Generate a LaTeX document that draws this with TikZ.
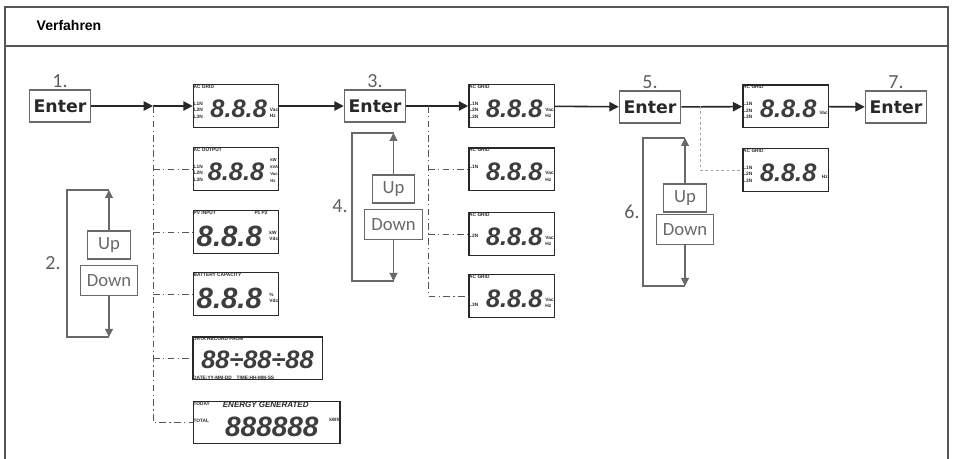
\documentclass[tikz,border=0pt]{standalone}
\usepackage{fontspec}
\setmainfont{Liberation Sans}
\newfontfamily\enterfont{DejaVu Sans}
\newfontfamily\keyfont{Carlito}
\usetikzlibrary{positioning,arrows.meta}
\definecolor{ink}{RGB}{40,40,40}
\definecolor{rule}{RGB}{85,85,85}
\definecolor{keygray}{RGB}{105,105,105}
\tikzset{
  frame/.style={draw=rule,line width=1.1pt},
  enterbox/.style={draw=keygray,line width=0.9pt,minimum width=46pt,minimum height=24pt,inner sep=1pt,
    font=\enterfont\bfseries\fontsize{13}{13}\selectfont,text=ink},
  keybox/.style={draw=keygray,line width=0.8pt,minimum height=21pt,inner sep=2pt,
    font=\keyfont\fontsize{14}{14}\selectfont,text=keygray},
  stepnum/.style={font=\keyfont\fontsize{15}{15}\selectfont,text=ink!75,inner sep=1pt},
  lcd/.style={draw=ink,line width=1pt,minimum width=64pt,minimum height=32pt,inner sep=0pt},
  digits/.style={font=\bfseries\itshape\fontsize{19}{19}\selectfont,text=ink!90,inner sep=0pt},
  tag/.style={font=\bfseries\fontsize{3.6}{4.8}\selectfont,text=ink,inner sep=0.6pt,align=left},
  flow/.style={line width=1.2pt,ink,-{Triangle[length=7pt,width=7pt]}},
  tap/.style={line width=0.7pt,rule,dash pattern=on 5pt off 2.5pt on 1pt off 2.5pt},
  faint/.style={line width=0.7pt,black!35,dash pattern=on 2pt off 2pt},
  bracket/.style={line width=0.8pt,keygray}
}
\begin{document}
\begin{tikzpicture}[x=0.75pt,y=-0.75pt]
\useasboundingbox (0,0) rectangle (953,459);
% frame with header
\draw[frame] (5,459) -- (5,7) -- (948,7) -- (948,459);
\draw[frame] (5,46) -- (948,46);
\node[anchor=west,font=\bfseries\fontsize{10.5}{12}\selectfont] (head) at (32,26) {Verfahren};

% Enter keys and step numbers
\node[enterbox] (e1) at (60,106) {Enter};
\node[enterbox] (e3) at (375,106) {Enter};
\node[enterbox] (e5) at (650,107) {Enter};
\node[enterbox] (e7) at (896,107) {Enter};
\node[stepnum,above=0pt of e1] (n1) {1.};
\node[stepnum,above=0pt of e3] (n3) {3.};
\node[stepnum,above=0pt of e5] (n5) {5.};
\node[stepnum,above=0pt of e7] (n7) {7.};

% AC GRID displays
\foreach \g/\x/\y/\side/\unit in {g1/236/106/{L1N\\L2N\\L3N}/{Vac\\Hz},
    g7/511.5/106/{L1N\\L2N\\L3N}/{Vac\\Hz},
    g8/511.5/169.5/{L1N\\~\\~}/{Vac\\Hz},
    g9/511.5/234/{~\\L2N\\~}/{Vac\\Hz},
    g10/511.5/296/{~\\~\\L3N}/{Vac\\Hz},
    g11/785.5/106.5/{L1N\\L2N\\L3N}/{Vac},
    g12/785.5/170/{L1N\\L2N\\L3N}/{Hz}}{
  \node[lcd] (\g) at (\x,\y) {};
  \node[tag,anchor=north west] at (\g.north west) {AC GRID};
  \node[tag,anchor=west] at ([yshift=-3pt]\g.west) {\side};
  \node[digits] at ([xshift=2pt,yshift=-2pt]\g.center) {8.8.8};
  \node[tag,anchor=east] at ([yshift=-5pt]\g.east) {\unit};
}

% other displays
\node[lcd] (g2) at (236,169) {};
\node[tag,anchor=north west] at (g2.north west) {AC OUTPUT};
\node[tag,anchor=west] at ([yshift=-3pt]g2.west) {L1N\\L2N\\L3N};
\node[digits] at ([xshift=0pt,yshift=-2pt]g2.center) {8.8.8};
\node[tag,anchor=east,font=\bfseries\fontsize{3.2}{5.2}\selectfont] at ([yshift=-1pt]g2.east) {kW\\kVA\\Vac\\Hz};

\node[lcd] (g3) at (236,232) {};
\node[tag,anchor=north west] at (g3.north west) {PV INPUT};
\node[tag,anchor=north east] at ([xshift=-8pt]g3.north east) {P1 P2};
\node[digits,font=\bfseries\itshape\fontsize{22}{22}\selectfont] at ([xshift=-5pt,yshift=-3pt]g3.center) {8.8.8};
\node[tag,anchor=east] at ([yshift=-3pt]g3.east) {kW\\Vdc};

\node[lcd] (g4) at (236,294) {};
\node[tag,anchor=north west] at (g4.north west) {BATTERY CAPACITY};
\node[digits,font=\bfseries\itshape\fontsize{22}{22}\selectfont] at ([xshift=-5pt,yshift=-3pt]g4.center) {8.8.8};
\node[tag,anchor=east] at ([yshift=-3pt]g4.east) {\%\\Vdc};

\node[lcd,minimum width=97pt] (g5) at (257.5,358.5) {};
\node[tag,anchor=north west] at (g5.north west) {DATA RECORD FROM};
\node[digits] at ([yshift=-1pt]g5.center) {88÷88÷88};
\node[tag,anchor=south west] at (g5.south west) {DATE:YY-MM-DD\quad TIME:HH-MM-SS};

\node[lcd,minimum width=110pt,minimum height=31pt] (g6) at (266.5,422.5) {};
\node[tag,anchor=north west] at (g6.north west) {TODAY};
\node[tag,anchor=north west,font=\bfseries\itshape\fontsize{6}{6}\selectfont] at ([xshift=22pt]g6.north west) {ENERGY GENERATED};
\node[tag,anchor=west] at ([yshift=1pt]g6.west) {TOTAL};
\node[digits,font=\bfseries\itshape\fontsize{21}{21}\selectfont] at ([xshift=4pt,yshift=-3pt]g6.center) {888888};
\node[tag,anchor=east] at ([yshift=2pt]g6.east) {kWh};

% main flow
\coordinate (j1) at (153,106);
\coordinate (j2) at (428,106);
\coordinate (j3) at (700,106);
\draw[flow] (e1) -- (j1);
\draw[flow] (j1) -- (g1);
\draw[flow] (g1) -- (e3);
\draw[flow] (e3) -- (g7);
\draw[flow] (g7) -- (e5);
\draw[flow] (e5) -- (g11);
\draw[flow] (g11) -- (e7);

% branches to the other displays
\draw[tap] (j1) |- (g6.west);
\foreach \b in {g2,g3,g4,g5}
  \draw[tap] (j1 |- \b.west) -- (\b.west);
\draw[tap] (j2) |- (g10.west);
\foreach \b in {g8,g9}
  \draw[tap] (j2 |- \b.west) -- (\b.west);
\draw[faint] (j3) |- (g12.west);

% Up / Down loops
\foreach \k/\lx/\ax/\ty/\by/\uy/\dy/\nx/\ny in {2/67/109/190/337/245/280.5/53/263,
    4/352/393.5/133/281/189/224.5/340/206, 6/643/685/138/286/198/229.5/632/212}{
  \coordinate (t\k) at (\lx,\ty);
  \coordinate (b\k) at (\lx,\by);
  \node[keybox,minimum width=32pt] (up\k) at (\ax,\uy) {Up};
  \node[keybox,minimum width=43pt,minimum height=23pt] (dn\k) at (\ax,\dy) {Down};
  \node[stepnum] (n\k) at (\nx,\ny) {\k.};
  \draw[bracket] (up\k |- t\k) -- (t\k) -- (b\k) -- (dn\k |- b\k);
  \draw[bracket,-{Triangle[length=6pt,width=6pt]}] (up\k) -- (up\k |- t\k);
  \draw[bracket,-{Triangle[length=6pt,width=6pt]}] (dn\k) -- (dn\k |- b\k);
}
\end{tikzpicture}
\end{document}
